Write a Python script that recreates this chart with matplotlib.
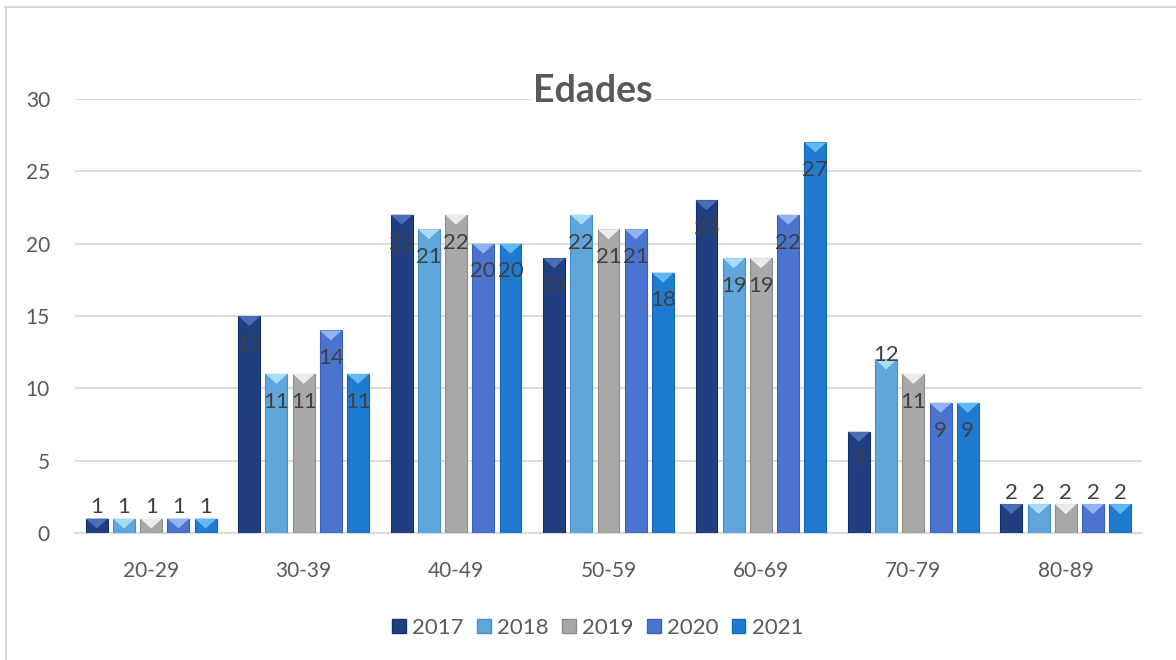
import numpy as np
import matplotlib.pyplot as plt
from matplotlib.patches import Polygon, Patch
from matplotlib.lines import Line2D

plt.rcParams['font.family'] = ['Lato', 'DejaVu Sans']

categories = ['20-29', '30-39', '40-49', '50-59', '60-69', '70-79', '80-89']
years = ['2017', '2018', '2019', '2020', '2021']
values = {
    '2017': [1, 15, 22, 19, 23, 7, 2],
    '2018': [1, 11, 21, 22, 19, 12, 2],
    '2019': [1, 11, 22, 21, 19, 11, 2],
    '2020': [1, 14, 20, 21, 22, 9, 2],
    '2021': [1, 11, 20, 18, 27, 9, 2],
}
# Excel put this label just above the bar top instead of inside
labels_above = [('2018', '70-79')]

colors = ['#1f3f80', '#5ea6dc', '#a8a8a8', '#4a74cf', '#1f7bd0']
bevels = ['#4a6fb8', '#a9dcf7', '#ececec', '#93b3ef', '#62b8f2']
edges = ['#16306a', '#4a90c8', '#8c8c8c', '#3a62b8', '#1667b4']

fig = plt.figure(figsize=(11.76, 6.6), dpi=100)
ax = fig.add_axes([75/1176, 1-533/660, (1142-75)/1176, (533-99)/660])

x = np.arange(len(categories))
step = 0.1785
width = 0.144
ppu = (533 - 99) / 30.0  # pixels per unit on y
bev_h = 10 / ppu

for k, yr in enumerate(years):
    bars = ax.bar(x + (k - 2) * step, values[yr], width, color=colors[k],
                  edgecolor=edges[k], linewidth=0.8, zorder=3)
    for b, v, cat in zip(bars, values[yr], categories):
        x0, w, top = b.get_x(), b.get_width(), b.get_height()
        tri = Polygon([(x0, top), (x0 + w, top), (x0 + w/2, top - bev_h)],
                      closed=True, facecolor=bevels[k], edgecolor='none', zorder=4)
        ax.add_patch(tri)
        if v < 5:
            off = 8
        elif (yr, cat) in labels_above:
            off = 3
        else:
            off = -20
        ax.annotate(str(v), (x0 + w/2, top), xytext=(0, off), textcoords='offset points',
                    ha='center', va='center', fontsize=16, color='#404040', zorder=5)

ax.set_xlim(-0.5, len(categories) - 0.5)
ax.set_ylim(0, 30)
ax.set_yticks(range(0, 31, 5))
ax.set_xticks(x)
ax.set_xticklabels(categories)
ax.tick_params(axis='both', length=0, labelsize=15, labelcolor='#595959')
ax.tick_params(axis='x', pad=20)
ax.tick_params(axis='y', pad=18)
ax.grid(axis='y', color='#d9d9d9', linewidth=1.3, zorder=0)
for s in ['top', 'right', 'left']:
    ax.spines[s].set_visible(False)
ax.spines['bottom'].set_color('#d9d9d9')
ax.spines['bottom'].set_linewidth(1.3)

fig.text(593/1176, 1-91/660, 'Edades', ha='center', va='center', fontsize=27,
         fontweight='bold', color='#595959',
         bbox=dict(facecolor='white', edgecolor='none', pad=1))

handles = [Patch(facecolor=colors[k], edgecolor=edges[k]) for k in range(len(years))]
fig.legend(handles, years, loc='center', bbox_to_anchor=(598/1176, 1-628/660), ncol=5,
           frameon=False, fontsize=16, labelcolor='#595959', handlelength=0.6,
           handleheight=0.6, handletextpad=0.3, columnspacing=0.6)

# chart frame
fig.add_artist(Line2D([5/1176, 1], [1-7/660, 1-7/660], color='#d9d9d9', linewidth=1.5))
fig.add_artist(Line2D([5.5/1176, 5.5/1176], [0, 1-7/660], color='#d9d9d9', linewidth=1.5))

fig.savefig('out.png', dpi=100)
